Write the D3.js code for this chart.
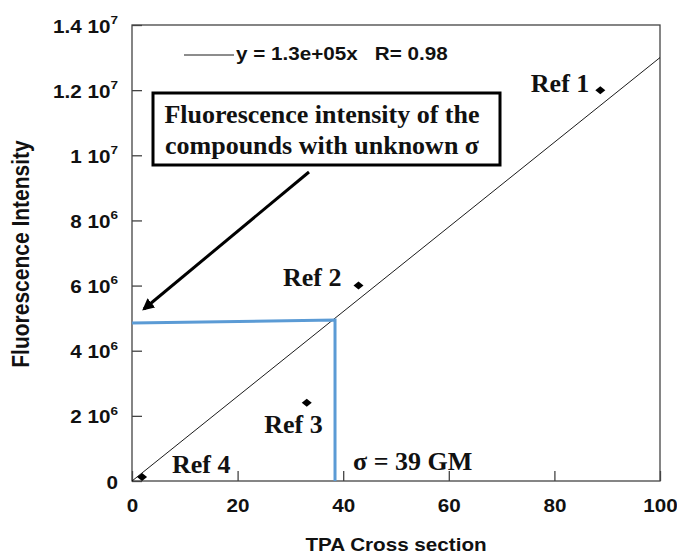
<!DOCTYPE html>
<html>
<head>
<meta charset="utf-8">
<script src="https://cdn.jsdelivr.net/npm/d3@7"></script>
<style>
  body { margin: 0; background: #fff; }
  svg { display: block; }
</style>
</head>
<body>
<svg id="chart" width="677" height="555"></svg>
<script>
// reference compounds (TPA cross section in GM, fluorescence intensity)
var refNames = ["Ref 1", "Ref 2", "Ref 3", "Ref 4"];
var refX = [88.7, 42.9, 33.1, 1.9];
var refY = [1.2e7, 6.0e6, 2.4e6, 1.2e5];

// linear fit y = slope * x
var slope = 1.3e5;
var fitX = [0, 100];

// read-off of the unknown compound
var readX = [0, 38.45, 38.45];
var readY = [4.85e6, 4.94e6, 0];

var xTicks = [0, 20, 40, 60, 80, 100];
var yTicks = [0, 2e6, 4e6, 6e6, 8e6, 1e7, 1.2e7, 1.4e7];
var yTickMant = ["0", "2", "4", "6", "8", "1", "1.2", "1.4"];
var yTickExp = ["", "6", "6", "6", "6", "7", "7", "7"];

var svg = d3.select("#chart"),
    margin = {top: 25, right: 17, bottom: 74, left: 132},
    width = +svg.attr("width") - margin.left - margin.right,
    height = +svg.attr("height") - margin.top - margin.bottom,
    g = svg.append("g").attr("transform", "translate(" + margin.left + "," + margin.top + ")");

var x = d3.scaleLinear().domain([0, 100]).range([0, width]);
var y = d3.scaleLinear().domain([0, 1.4e7]).range([height, 0]);

var sans = "'Liberation Sans', Arial, sans-serif";
var serif = "'Liberation Serif', 'Times New Roman', serif";
var sx = 1.18; // the sans labels of the original are stretched sideways

// frame
g.append("rect")
    .attr("width", width)
    .attr("height", height)
    .attr("fill", "none")
    .attr("stroke", "#444")
    .attr("stroke-width", 1.3);

// x axis, ticks pointing inward
var xAxis = g.append("g")
    .attr("transform", "translate(0," + height + ")")
    .call(d3.axisBottom(x).tickValues(xTicks).tickSize(-10).tickPadding(19).tickFormat(d3.format("d")));
xAxis.select(".domain").remove();
xAxis.selectAll("line").attr("stroke", "#444").attr("stroke-width", 1.3);
xAxis.selectAll("text")
    .attr("font-family", sans)
    .attr("font-size", 17.5)
    .attr("font-weight", "bold")
    .attr("fill", "#111")
    .attr("transform", "scale(" + sx + ",1)");

// y axis, ticks pointing inward
var yAxis = g.append("g")
    .call(d3.axisLeft(y).tickValues(yTicks).tickSize(-10).tickFormat(""));
yAxis.select(".domain").remove();
yAxis.selectAll("line").attr("stroke", "#444").attr("stroke-width", 1.3);
yAxis.selectAll(".tick text").each(function(d, i) {
  var t = d3.select(this)
      .attr("font-family", sans)
      .attr("font-size", 17.5)
      .attr("font-weight", "bold")
      .attr("fill", "#111")
      .attr("x", 0)
      .attr("dy", "0.4em")
      .attr("text-anchor", "end")
      .attr("transform", "translate(-14,0) scale(" + sx + ",1)");
  if (yTickExp[i] === "") {
    t.text(yTickMant[i]);
  } else {
    t.append("tspan").text(yTickMant[i] + " 10");
    t.append("tspan").attr("font-size", 11.5).attr("dy", "-0.75em").text(yTickExp[i]);
  }
});

// axis titles
svg.append("text")
    .attr("transform", "translate(" + (margin.left + width / 2) + ",551) scale(" + sx + ",1)")
    .attr("text-anchor", "middle")
    .attr("font-family", sans)
    .attr("font-size", 17.5)
    .attr("font-weight", "bold")
    .attr("fill", "#111")
    .text("TPA Cross section");

svg.append("text")
    .attr("transform", "translate(29,254) scale(" + sx + ",1) rotate(-90)")
    .attr("text-anchor", "middle")
    .attr("font-family", sans)
    .attr("font-size", 21)
    .attr("font-weight", "bold")
    .attr("fill", "#111")
    .text("Fluorescence Intensity");

// fit line
var line = d3.line()
    .x(function(d) { return x(d); })
    .y(function(d) { return y(slope * d); });

g.append("path")
    .datum(fitX)
    .attr("fill", "none")
    .attr("stroke", "#000")
    .attr("stroke-width", 0.9)
    .attr("d", line);

// blue read-off line
var readData = readX.map(function(d, i) { return [d, readY[i]]; });
g.append("path")
    .datum(readData)
    .attr("fill", "none")
    .attr("stroke", "#5b9bd5")
    .attr("stroke-width", 3)
    .attr("d", d3.line().x(function(d) { return x(d[0]); }).y(function(d) { return y(d[1]); }));

// data points: diamonds, a little wider than tall
var wideDiamond = {
  draw: function(context, size) {
    var h = Math.sqrt(size) / 2;
    context.moveTo(0, -h * 0.8);
    context.lineTo(h, 0);
    context.lineTo(0, h * 0.8);
    context.lineTo(-h, 0);
    context.closePath();
  }
};
g.selectAll(".pt")
    .data(refX)
    .enter().append("path")
    .attr("class", "pt")
    .attr("transform", function(d, i) { return "translate(" + x(d) + "," + y(refY[i]) + ")"; })
    .attr("d", d3.symbol().type(wideDiamond).size(100))
    .attr("fill", "#000");

// point labels
var labelPos = [[-11, 2], [-17, 0], [16, 30], [30, -4]];
g.selectAll(".lbl")
    .data(refNames)
    .enter().append("text")
    .attr("x", function(d, i) { return x(refX[i]) + labelPos[i][0]; })
    .attr("y", function(d, i) { return y(refY[i]) + labelPos[i][1]; })
    .attr("text-anchor", function(d, i) { return i == 3 ? "start" : "end"; })
    .attr("font-family", serif)
    .attr("font-size", 26)
    .attr("font-weight", "bold")
    .attr("fill", "#111")
    .text(function(d) { return d; });

g.append("text")
    .attr("x", x(readX[1]) + 18)
    .attr("y", height - 11)
    .attr("font-family", serif)
    .attr("font-size", 26)
    .attr("font-weight", "bold")
    .attr("fill", "#111")
    .text("\u03c3 = 39 GM");

// legend
var leg = svg.append("g").attr("transform", "translate(184,55)");
leg.append("line")
    .attr("x1", 0).attr("x2", 50)
    .attr("stroke", "#000")
    .attr("stroke-width", 0.9);
leg.append("text")
    .attr("transform", "translate(52,5) scale(" + sx + ",1)")
    .attr("font-family", sans)
    .attr("font-size", 17.5)
    .attr("font-weight", "bold")
    .attr("fill", "#111")
    .attr("xml:space", "preserve")
    .text("y = 1.3e+05x   R= 0.98");

// annotation box
svg.append("rect")
    .attr("x", 153).attr("y", 93)
    .attr("width", 347).attr("height", 72)
    .attr("fill", "#fff")
    .attr("stroke", "#000")
    .attr("stroke-width", 3);

var note = svg.append("text")
    .attr("text-anchor", "middle")
    .attr("font-family", serif)
    .attr("font-size", 26)
    .attr("font-weight", "bold")
    .attr("fill", "#111");
note.append("tspan").attr("x", 322).attr("y", 123).text("Fluorescence intensity of the");
note.append("tspan").attr("x", 322).attr("y", 154).text("compounds with unknown \u03c3");

// arrow
svg.append("defs").append("marker")
    .attr("id", "arrow")
    .attr("viewBox", "0 0 10 10")
    .attr("refX", 8).attr("refY", 5)
    .attr("markerWidth", 4).attr("markerHeight", 4)
    .attr("orient", "auto")
  .append("path")
    .attr("d", "M0,0 L10,5 L0,10 z")
    .attr("fill", "#000");

svg.append("line")
    .attr("x1", 309).attr("y1", 172)
    .attr("x2", 144).attr("y2", 309)
    .attr("stroke", "#000")
    .attr("stroke-width", 3)
    .attr("marker-end", "url(#arrow)");
</script>
</body>
</html>
